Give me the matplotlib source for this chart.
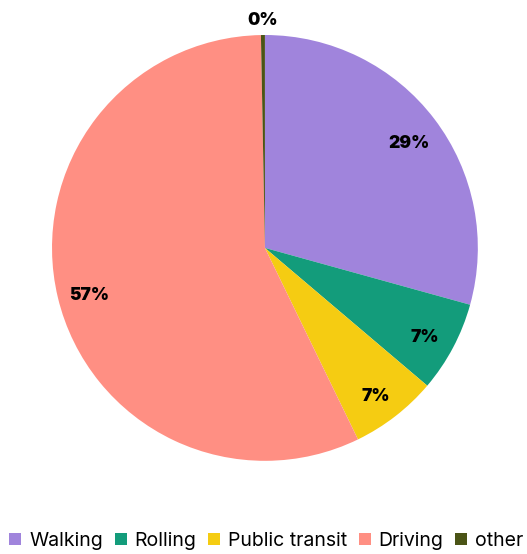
import matplotlib
matplotlib.use("Agg")
import matplotlib.pyplot as plt
import numpy as np
from matplotlib.patches import Patch

categories = ["Walking", "Rolling", "Public transit", "Driving", "other"]
values = [29.3, 6.9, 6.6, 56.9, 0.3]
colors = ["#A084DC", "#139C7B", "#F5CC12", "#FF8F83", "#4B5416"]

plt.rcParams['font.family'] = ['Inter', 'DejaVu Sans']

fig = plt.figure(figsize=(5.27, 5.54), dpi=100)
ax = fig.add_axes([0.0987, 0.168, 0.808, 0.769])
wedges, _ = ax.pie(values, colors=colors, startangle=90, counterclock=False,
                   radius=1, wedgeprops=dict(linewidth=0))
ax.set_xlim(-1, 1)
ax.set_ylim(-1, 1)
ax.set_aspect('equal')

total = sum(values)
for w, v in zip(wedges, values):
    pct = v / total * 100
    mid = np.deg2rad((w.theta1 + w.theta2) / 2)
    if pct >= 1:
        x, y = 0.85 * np.cos(mid), 0.85 * np.sin(mid) - 0.025
    else:
        x, y = 1.08 * np.cos(mid), 1.08 * np.sin(mid) - 0.01
    ax.text(x, y, f"{pct:.0f}%", ha='center', va='center',
            fontsize=12.5, fontweight=900, color='black', clip_on=False)

handles = [Patch(facecolor=c, edgecolor='none') for c in colors]
fig.legend(handles, categories, loc='lower center', bbox_to_anchor=(0.505, -0.017), ncol=5,
           frameon=False, fontsize=14, handlelength=0.62, handleheight=0.62,
           handletextpad=0.4, columnspacing=0.6, borderaxespad=0.3)

fig.savefig("out.png", dpi=100)
